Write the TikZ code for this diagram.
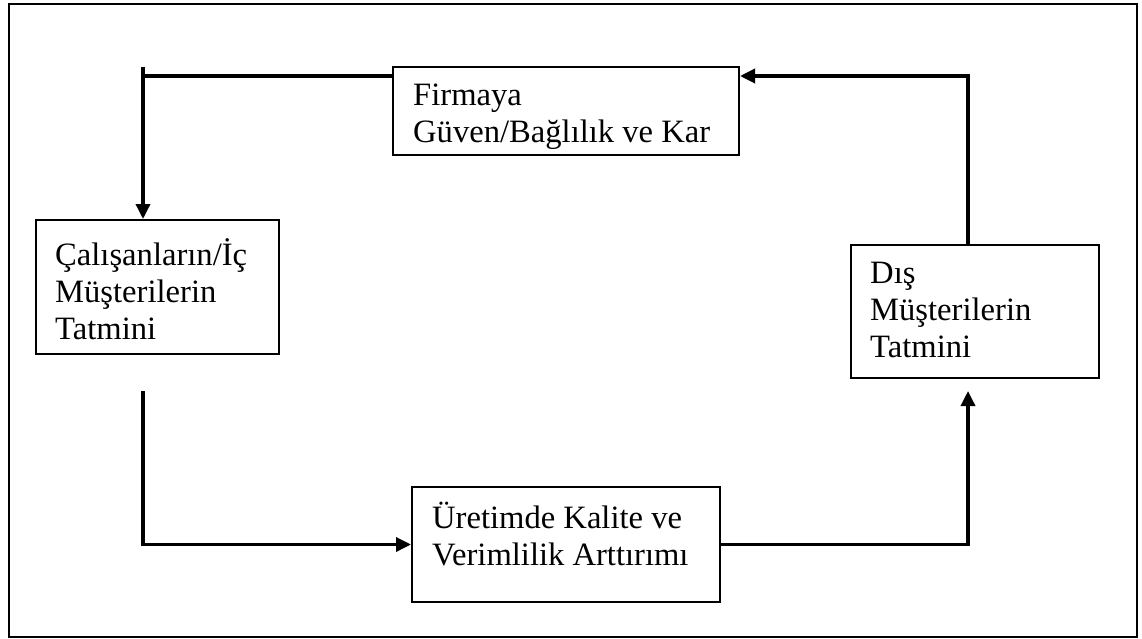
\documentclass[tikz,border=0pt]{standalone}
\usepackage{fontspec}
\setmainfont{Liberation Serif}
\usetikzlibrary{arrows.meta}

\tikzset{
  box/.style={draw, line width=2pt, rectangle, anchor=north west, inner sep=0pt},
  label/.style={anchor=base west, inner sep=0pt, align=left,
                font=\fontsize{32.6}{37}\selectfont},
  conn/.style={line width=3.4pt, -{Triangle[length=15pt, width=14pt]}},
  plain/.style={line width=3.4pt}
}

\begin{document}
\begin{tikzpicture}[x=1pt, y=-1pt]
  % page frame
  \useasboundingbox (0,0) rectangle (1142,639);
  \draw[line width=2.8pt] (9,4) rectangle (1137,637);

  % boxes
  \node[box, minimum width=346pt, minimum height=88pt] (top) at (392,66) {};
  \node[box, minimum width=243pt, minimum height=134pt] (left) at (35,219) {};
  \node[box, minimum width=248pt, minimum height=133pt] (right) at (850,244) {};
  \node[box, minimum width=308pt, minimum height=115pt] (bottom) at (411,486) {};

  % box texts (positioned by the baseline of their last line)
  \node[label] (toptext) at (413,143) {Firmaya\\Güven/Bağlılık ve Kar};
  \node[label] (lefttext) at (55,339) {Çalışanların/İç\\Müşterilerin\\Tatmini};
  \node[label] (righttext) at (870,357) {Dış\\Müşterilerin\\Tatmini};
  \node[label] (bottomtext) at (432,565) {Üretimde Kalite ve\\Verimlilik Arttırımı};

  % connector bends and loose ends
  \coordinate (k1) at (143,67);
  \coordinate (t1) at (143,76);
  \coordinate (k2) at (143,391);
  \coordinate (k3) at (968,391);
  \coordinate (k4) at (968,76);

  % top box -> internal customers
  \draw[plain] (t1 -| top.west) -- (t1);
  \draw[conn] (k1) -- (left.north -| k1);
  % internal customers -> quality and productivity
  \draw[conn] (k2) |- (bottom.west);
  % quality and productivity -> external customers
  \draw[conn] (bottom.east) -| (k3);
  % external customers -> company loyalty and profit
  \draw[conn] (right.north -| k4) |- (top.east |- k4);
\end{tikzpicture}
\end{document}
